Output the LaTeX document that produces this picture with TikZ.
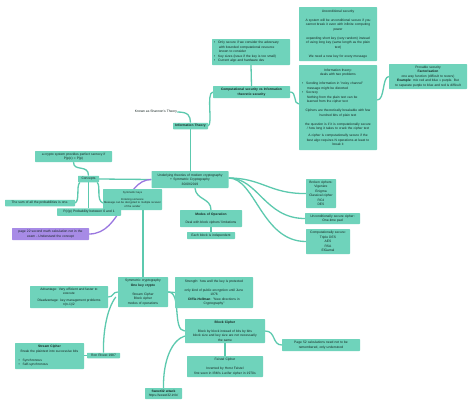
\documentclass[tikz,border=0pt]{standalone}
\usepackage{fontspec}
\setmainfont{Liberation Sans}
\usetikzlibrary{backgrounds}
\definecolor{tealbox}{HTML}{6FD3BB}
\definecolor{tealline}{HTML}{5CC9AE}
\definecolor{purbox}{HTML}{A78BE6}
\definecolor{purline}{HTML}{9A77E0}
\definecolor{txt}{HTML}{142420}
\newcommand\fs{\fontsize{3.3}{4.5}\selectfont}
\newcommand\fss{\fontsize{2.7}{3.6}\selectfont}
\newcommand\bl[2]{\makebox[#1][l]{#2}}
\tikzset{
  box/.style={fill=tealbox, rounded corners=0.6pt, inner sep=0pt, align=center, font=\fs, text=txt},
  pbox/.style={box, fill=purbox},
  link/.style={draw=tealline, line width=1.3pt},
  plink/.style={draw=purline, line width=1.3pt},
}
\begin{document}
\begin{tikzpicture}[x=1pt,y=-1pt]
\useasboundingbox (0,0) rectangle (474,407);

% ---------- nodes ----------
\node[box, minimum width=78, minimum height=54, text width=76] (uncond) at (338,34)
 {Unconditional security\\[4.5pt]
  A system will be unconditional secure if you\\ cannot break it even with infinite computing\\ power\\[4.5pt]
  expanding short key (very random) instead\\ of using long key (same length as the plain\\ text)\\[4.5pt]
  We need a new key for every message};

\node[box, minimum width=78, minimum height=85, text width=76] (info) at (338,107.5)
 {Information theory:\\ deals with two problems\\[4.5pt]
  \bl{72pt}{\textbullet\hspace{3pt}Sending information in "noisy channel"}\\
  \bl{72pt}{\hspace{5pt}message might be distorted}\\
  \bl{72pt}{\textbullet\hspace{3pt}Secrecy}\\
  \bl{72pt}{\hspace{5pt}Nothing from the plain text can be}\\
  \bl{72pt}{\hspace{5pt}learned from the cipher text}\\[4.5pt]
  Ciphers are theoretically breakable with few\\ hundred bits of plain text\\[4.5pt]
  the question is if it is computationally secure\\ / how long it takes to crack the cipher text\\[2.5pt]
  A cipher is computationally secure if the\\ best algo requires N operations at least to\\ break it};

\node[box, minimum width=78, minimum height=25, text width=76] (provable) at (428,76.5)
 {Provable security\\ \textbf{Factorisation}\\ one way function (difficult to revers)\\
  \textbf{Example}: mix red and blue \textgreater\textgreater{} purple. But\\ to separate purple to blue and red is difficult};

\node[box, minimum width=78, minimum height=26, text width=76] (onlysecure) at (251,52)
 {\bl{74pt}{\textbullet\hspace{3pt}Only secure if we consider the adversary}\\
  \bl{74pt}{\hspace{5pt}with bounded computational resource}\\
  \bl{74pt}{\hspace{5pt}known to consider}\\
  \bl{74pt}{\textbullet\hspace{3pt}Key sizes (issue if the key is too small)}\\
  \bl{74pt}{\textbullet\hspace{3pt}Current algo and hardware dev}};

\node[box, minimum width=77, minimum height=12, text width=75] (comp) at (251.5,92)
 {\textbf{Computational security vs Information}\\ \textbf{theoretic security}};

\node[font=\fs, text=txt, inner sep=0pt] (shannon) at (156,112) {Known as Shannon's Theory};

\node[box, minimum width=35, minimum height=6.5, text width=34] (infotheory) at (190.5,126)
 {\textbf{Information Theory}};

\node[box, minimum width=77, minimum height=17, text width=75] (underlying) at (190,179.5)
 {Underlying theories of modern cryptography\\ + Symmetric Cryptography\\ 30/09/2019};

\node[box, font=\fss, minimum width=59, minimum height=21, text width=58] (symkeys) at (132.5,199.5)
 {Symmetric keys\\[3pt] Entering someone\\ Message can be decrypted to multiple receiver\\ of the sender};

\node[box, minimum width=62, minimum height=17, text width=60] (modes) at (211,218.5)
 {\textbf{Modes of Operation}\\[3pt] Deal with block ciphers' limitations};

\node[box, minimum width=48, minimum height=7, text width=46] (eachblock) at (211,235.5)
 {Each block is independent};

\node[box, minimum width=77, minimum height=11, text width=75] (perfect) at (73.5,156.5)
 {a crypto system provides perfect secrecy if\\ P(p|c) = P(p)};

\node[box, minimum width=21, minimum height=6.5, text width=20] (concepts) at (88.5,179)
 {Concepts};

\node[box, minimum width=70, minimum height=6.5, text width=68] (sumprob) at (40,203)
 {The sum of all the probabilities is one.};

\node[box, minimum width=64, minimum height=7.5, text width=62] (pcp) at (89,212)
 {P(c|p) Probability between 0 and 1};

\node[pbox, minimum width=77, minimum height=12, text width=75] (purple) at (50.5,234)
 {page 22 second math calculation not in the\\ exam - Understand the concept};

\node[box, minimum width=30, minimum height=29, text width=29] (broken) at (321,193.5)
 {Broken ciphers:\\ Vigenère\\ Enigma\\ Classical cipher\\ RC4\\ DES};

\node[box, minimum width=55, minimum height=11, text width=54] (otp) at (332.5,218.5)
 {Unconditionally secure cipher:\\ One-time pad};

\node[box, minimum width=44, minimum height=25, text width=43] (compsec) at (328,241.5)
 {Computationally secure:\\ Triple DES\\ AES\\ RSA\\ ElGamal};

\node[box, minimum width=78, minimum height=22, text width=76] (advantage) at (69,297)
 {Advantage: Very efficient and faster to\\ execute\\[2pt] Disadvantage: key management problems\\ n(n-1)/2};

\node[box, minimum width=50, minimum height=30, text width=49] (symcrypto) at (143,292)
 {Symmetric cryptography\\ \textbf{One key crypto}\\[4.5pt] Stream Cipher\\ Block cipher\\ modes of operations};

\node[box, minimum width=78, minimum height=31, text width=76] (strength) at (214,292.5)
 {Strength: how well the key is protected\\[4.5pt] only kind of public encryption until June\\ 1976\\
  \textbf{Diffie-Hellman}: "New directions in\\ Cryptography"};

\node[box, minimum width=80, minimum height=24, text width=78] (block) at (225,331)
 {\textbf{Block Cipher}\\[4.5pt] Block by block instead of bits by bits\\ block size and key size are not necessarily\\ the same};

\node[box, minimum width=76, minimum height=21, text width=74] (feistel) at (225,366.5)
 {Feistel Cipher\\[4.5pt] Invented by Horst Feistel\\ first seen in IBM's Lucifer cipher in 1970s};

\node[box, minimum width=78, minimum height=12, text width=76] (page52) at (321,345)
 {Page 52 calculations need not to be\\ remembered, only understood};

\node[box, minimum width=37, minimum height=11, text width=36] (sweet) at (163.5,393.5)
 {\textbf{Sweet32 attack}\\ https://sweet32.info/};

\node[box, minimum width=33, minimum height=5.5, text width=32] (rivest) at (103.5,355.5)
 {Ron Rivest 1987};

\node[box, minimum width=69, minimum height=26, text width=67] (stream) at (49.5,356)
 {\textbf{Stream Cipher}\\ Break the plaintext into successive bits\\[4.5pt]
  \bl{62pt}{\textbullet\hspace{3pt}Synchronous}\\
  \bl{62pt}{\textbullet\hspace{3pt}Self-synchronous}};

% ---------- connectors ----------
\begin{scope}[on background layer]
\fill[white] (0,0) rectangle (474,407);
\draw[link] (onlysecure.south) -- (comp.north);
\draw[link] (comp.east) .. controls (297,92) and (293,104) .. (info.west |- 0,104);
\draw[link] (info.east |- 0,100) .. controls (385,100) and (382,77) .. (provable.west);
\draw[link] (infotheory.east) .. controls (213,124) and (206,93) .. (comp.west);
\draw[link] (shannon.east) .. controls (189,112) and (190,116) .. (infotheory.north);
\draw[link] (infotheory.south) -- (underlying.north -| infotheory.south);
\draw[link] (underlying.south) ++(5,0) .. controls (196,200) and (211,198) .. (modes.north);
\draw[link] (modes.south) -- (eachblock.north);
\draw[link] (perfect.south) .. controls (73.5,172) and (88.5,164) .. (concepts.north);
\draw[link] (concepts.east) -- (underlying.west);
\draw[link] (concepts.south) -- (pcp.north -| concepts.south);
\draw[link] (concepts.south west) ++(2,0) .. controls (76,186) and (80,200) .. (sumprob.east);
\draw[link] (concepts.south east) ++(-2,0) .. controls (101,186) and (96,200) .. (symkeys.west |- 0,203);
\draw[plink] (purple.east) .. controls (122,234) and (124,179.5) .. (underlying.west);
\draw[link] (underlying.east |- 0,178) .. controls (262,178) and (270,194) .. (broken.west);
\draw[link] (underlying.east |- 0,178) .. controls (258,178) and (265,218.5) .. (otp.west);
\draw[link] (underlying.east |- 0,178) .. controls (255,178) and (262,241.5) .. (compsec.west);
\draw[link] (symcrypto.north |- symkeys.south) -- (symcrypto.north);
\draw[link] (symcrypto.west) .. controls (112,292) and (114,297) .. (advantage.east);
\draw[link] (symcrypto.west) ++(-2,5) .. controls (106,310) and (103,335) .. (rivest.north);
\draw[link] (rivest.west) -- (stream.east |- rivest.west);
\draw[link] (symcrypto.east) -- (strength.west);
\draw[link] (symcrypto.east) .. controls (182,292) and (172,331) .. (block.west);
\draw[link] (block.west |- 0,336) .. controls (172,340) and (163,360) .. (sweet.north);
\draw[link] (block.south) -- (feistel.north);
\draw[link] (block.east) .. controls (276,331) and (272,345) .. (page52.west);
\end{scope}
\end{tikzpicture}
\end{document}
